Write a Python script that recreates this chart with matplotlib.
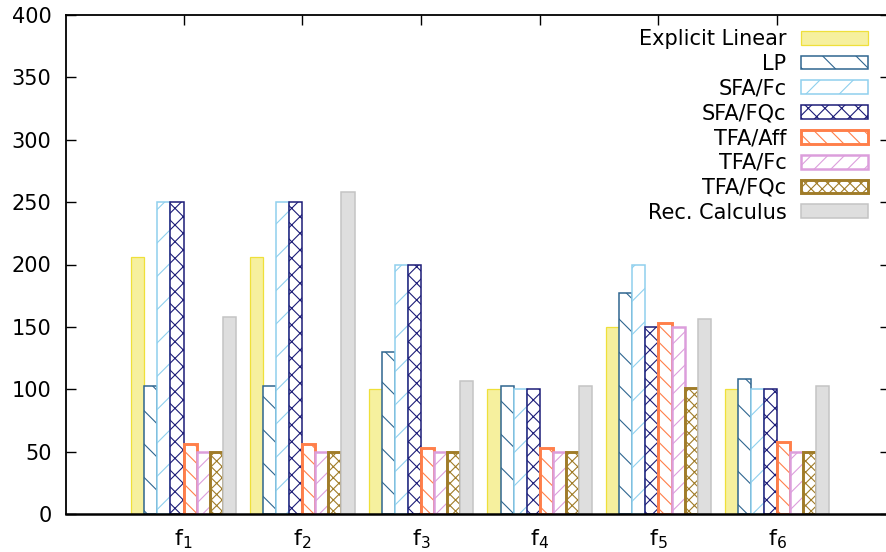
import matplotlib
matplotlib.use("Agg")
import matplotlib.pyplot as plt
import numpy as np

categories = ["$\\mathregular{f_1}$", "$\\mathregular{f_2}$", "$\\mathregular{f_3}$",
              "$\\mathregular{f_4}$", "$\\mathregular{f_5}$", "$\\mathregular{f_6}$"]

series_names = ["Explicit Linear", "LP", "SFA/Fc", "SFA/FQc",
                "TFA/Aff", "TFA/Fc", "TFA/FQc", "Rec. Calculus"]

explicit_linear = [206, 206, 100, 100, 150, 100]
lp              = [103, 103, 130, 103, 177, 108]
sfa_fc          = [250, 250, 200, 100, 200, 100]
sfa_fqc         = [250, 250, 200, 100, 150, 100]
tfa_aff         = [56, 56, 53, 53, 153, 58]
tfa_fc          = [50, 50, 50, 50, 150, 50]
tfa_fqc         = [50, 50, 50, 50, 101, 50]
rec_calculus    = [158, 258, 107, 103, 156, 103]

y_ticks = [0, 50, 100, 150, 200, 250, 300, 350, 400]

series_values = [explicit_linear, lp, sfa_fc, sfa_fqc,
                 tfa_aff, tfa_fc, tfa_fqc, rec_calculus]

# (face, edge, hatch, edge width)
styles = [
    ("#f6f09e", "#efe03a", None, 0.9),
    ("white", "#2f6690", "\\", 1.1),
    ("white", "#8fd0ee", "/", 1.1),
    ("white", "#1c1c78", "xx", 1.1),
    ("white", "#ff7f4a", "\\\\", 2.1),
    ("white", "#dc9edc", "//", 1.8),
    ("white", "#a07c28", "xxx", 2.1),
    ("#dedede", "#c4c4c4", None, 1.1),
]

DPI = 100
plt.rcParams["font.family"] = ["DejaVu Sans"]
plt.rcParams["font.size"] = 15.0
plt.rcParams["hatch.linewidth"] = 0.8

fig = plt.figure(figsize=(887 / DPI, 552 / DPI), dpi=DPI)
W, H = 887, 552
ax = fig.add_axes([66 / W, (H - 514) / H, (890 - 66) / W, (514 - 15) / H])

x = np.arange(len(categories))
n = len(series_names)
bw = 0.11
for i, (name, vals, (fc, ec, hatch, lw)) in enumerate(zip(series_names, series_values, styles)):
    ax.bar(x + (i - (n - 1) / 2) * bw, vals, bw, facecolor=fc, edgecolor=ec,
           hatch=hatch, linewidth=lw, label=name, zorder=2)

ax.set_xlim(-0.99, 5.95)
ax.set_ylim(0, 400)
ax.set_xticks(x)
ax.set_xticklabels(categories, fontsize=16)
ax.set_yticks(y_ticks)

for side in ["left", "top", "right"]:
    ax.spines[side].set_linewidth(1.3)
ax.spines["bottom"].set_linewidth(1.8)

ax.tick_params(axis="y", direction="in", length=7.2, width=1.0, right=True, pad=10.4)
ax.tick_params(axis="x", direction="in", length=7.2, width=1.0, top=True,
               bottom=False, pad=9.6)

leg = ax.legend(loc="upper right", bbox_to_anchor=(868 / W, 1 - 29 / H),
                bbox_transform=fig.transFigure, frameon=False, markerfirst=False,
                borderpad=0, borderaxespad=0, handlelength=3.2, handleheight=0.64,
                handletextpad=0.72, labelspacing=0.23)

fig.savefig("out.png", dpi=DPI)
